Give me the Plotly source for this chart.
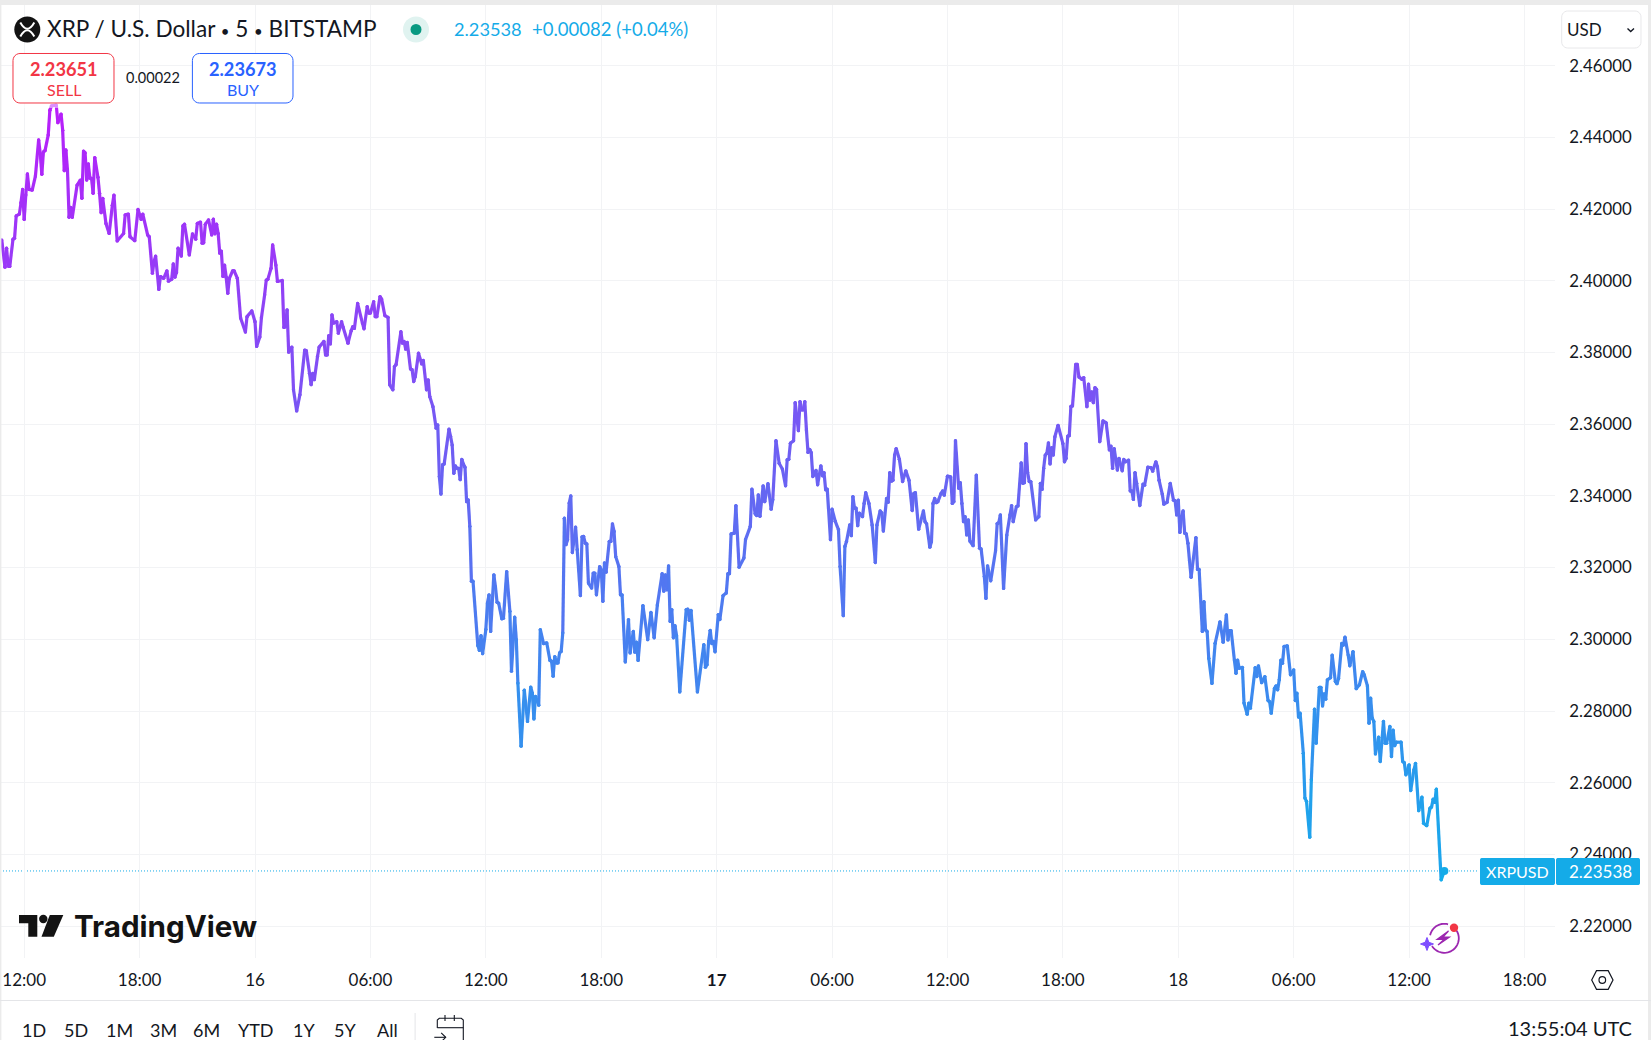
import math
import plotly.graph_objects as go

W, H = 1651, 1040
FONT = "Lato"
INK = "#131722"
GRID = "#f2f3f5"
CYAN = "#14abe8"
RED = "#f23645"
BLUE = "#2962ff"
TOP_RGB = (186, 29, 250)
BOT_RGB = (18, 174, 235)

# 5-minute bar numbers, counted from 12:00 on the 15th
bars = [
 -14,-12,-11,-10,-9,-7,-6,-5,-3,-2,-1,0,1,2,3,5,7,9,10,11,12,13,15,16,17,20,21,23,24,25,26,27,28,29,30,33,35,36,37,38,39,40,41,42,43,44,46,47,48,49,51,53,55,56,58,62,63,65,66,69,71,73,74,77,78,80,81,82,84,85,87,89,90,92,93,94,95,96,98,99,100,103,105,107,108,110,111,112,113,115,117,118,119,120,121,122,123,124,125,126,127,128,130,131,133,135,138,139,142,144,145,147,148,150,151,152,154,155,157,158,161,162,163,164,165,167,168,170,172,175,176,178,179,180,181,183,184,187,188,189,190,191,192,193,195,196,198,199,202,204,205,206,208,211,212,214,215,216,218,219,220,222,223,225,227,228,230,231,232,235,236,237,238,239,241,242,243,244,246,248,249,251,252,253,255,
 257,258,259,260,261,262,265,266,267,268,269,270,271,272,273,274,275,276,277,278,279,280,283,284,285,286,288,289,290,291,293,294,295,296,298,299,301,303,304,306,307,308,310,312,314,316,317,318,319,321,322,324,326,328,329,330,331,332,333,334,335,336,337,338,339,340,341,342,344,345,347,348,349,350,351,352,354,355,356,357,359,360,361,362,363,365,366,367,368,369,371,372,373,375,377,378,380,381,382,383,386,389,391,393,395,398,399,400,401,402,403,404,405,406,407,409,413,414,415,416,420,424,425,426,427,428,429,430,431,433,434,436,438,439,440,441,443,444,446,449,450,453,454,456,457,458,459,461,462,464,466,467,469,471,473,475,476,477,478,480,481,483,484,485,486,487,488,489,490,491,492,494,495,497,498,499,500,501,503,504,506,508,509,511,512,513,515,516,517,518,519,520,521,
 523,524,525,527,529,531,532,534,535,536,538,539,540,541,542,543,544,546,548,550,552,554,555,556,558,561,562,563,565,566,567,568,569,570,572,573,574,576,578,579,580,581,583,584,585,586,587,588,589,590,592,594,596,597,599,600,601,603,606,607,608,609,611,613,615,616,617,619,620,622,623,624,625,626,627,628,631,633,634,635,636,637,638,639,640,641,642,643,645,648,649,650,651,652,653,654,656,657,658,660,661,663,664,665,666,667,668,669,671,673,675,677,678,679,680,682,683,685,686,687,689,690,691,692,693,694,696,698,699,701,703,704,706,707,708,710,711,713,715,717,718,719,720,721,722,723,724,725,726,727,728,731,732,733,735,736,737,738,739,
 741,743,746,748,750,751,752,753,755,756,757,758,760,761,763,764,765,768,769,770,772,774,776,777,778,780,781,782,783,784,785,786,788,790,792,793,794,795,796,798,799,800,802,803,805,806,808,809,810,811,812,813,815,816,818,819,820,822,823,824,826,827,829,831,833,835,836,838,839,840,841,842,843,845,846,848,849,850,852,853,854,855,856,859,860,861,862,864,865,867,868,870,872,873,875,877,878,879,880,881,884,886,
]
# XRP/USD price at those bars
prices = [
 2.4114,2.4038,2.4091,2.4041,2.4040,2.4116,2.4119,2.4181,2.4186,2.4218,2.4255,2.4171,2.4239,2.4298,2.4255,2.4253,2.4292,2.4393,2.4355,2.4297,2.4360,2.4363,2.4407,2.4476,2.4488,2.4490,2.4441,2.4465,2.4420,2.4307,2.4365,2.4309,2.4177,2.4205,2.4177,2.4267,2.4281,2.4230,2.4362,2.4357,2.4281,2.4326,2.4286,2.4286,2.4244,2.4344,2.4289,2.4244,2.4190,2.4230,2.4160,2.4132,2.4211,2.4239,2.4111,2.4132,2.4184,2.4186,2.4123,2.4112,2.4199,2.4171,2.4186,2.4128,2.4123,2.4021,2.4054,2.4069,2.3976,2.4012,2.4007,2.4028,2.3999,2.4004,2.4047,2.4010,2.4023,2.4091,2.4069,2.4153,2.4158,2.4072,2.4131,2.4116,2.4160,2.4164,2.4105,2.4106,2.4158,2.4170,2.4128,2.4172,2.4131,2.4158,2.4132,2.4077,2.4083,2.4012,2.4044,2.4010,2.3965,2.4007,2.4028,2.4028,2.4007,2.3896,2.3857,2.3900,2.3916,2.3886,2.3817,2.3843,2.3897,2.3961,2.4002,2.4004,2.4035,2.4100,2.4044,2.3998,2.4001,2.3870,2.3872,2.3919,2.3801,2.3815,2.3696,2.3637,2.3682,2.3807,2.3805,2.3742,2.3710,2.3742,2.3724,2.3789,2.3815,2.3831,2.3793,2.3793,2.3847,2.3824,2.3905,2.3882,2.3886,2.3854,2.3886,2.3870,2.3826,2.3861,2.3872,2.3867,2.3937,2.3882,2.3866,2.3928,2.3910,2.3910,2.3942,2.3900,2.3900,2.3956,2.3949,2.3903,2.3898,2.3710,2.3696,2.3761,2.3766,2.3858,2.3826,2.3831,2.3809,2.3828,2.3754,2.3752,2.3719,2.3733,2.3798,2.3768,2.3778,2.3696,2.3724,2.3677,2.3649,
 2.3589,2.3598,2.3454,2.3405,2.3487,2.3489,2.3586,2.3566,2.3542,2.3463,2.3484,2.3477,2.3477,2.3445,2.3502,2.3489,2.3480,2.3384,2.3389,2.3315,2.3162,2.3162,2.2983,2.2969,2.3010,2.2960,2.3027,2.3101,2.3124,2.3022,2.3180,2.3146,2.3103,2.3101,2.3057,2.3059,2.3189,2.3078,2.2911,2.3062,2.2999,2.2878,2.2702,2.2858,2.2771,2.2867,2.2850,2.2778,2.2841,2.2816,2.3027,2.2988,2.2990,2.2941,2.2939,2.2897,2.2952,2.2934,2.2934,2.2962,2.2966,2.3018,2.3338,2.3264,2.3278,2.3380,2.3400,2.3242,2.3313,2.3250,2.3122,2.3286,2.3287,2.3268,2.3266,2.3157,2.3143,2.3185,2.3185,2.3124,2.3203,2.3194,2.3106,2.3213,2.3187,2.3273,2.3273,2.3322,2.3301,2.3231,2.3203,2.3124,2.3124,2.2937,2.3055,2.2962,2.3022,2.2964,2.2992,2.2941,2.3094,2.2999,2.3075,2.3004,2.3096,2.3183,2.3134,2.3180,2.3138,2.3205,2.3050,2.3083,2.3004,2.3038,2.3010,2.2853,2.3083,2.3084,2.3053,2.3081,2.2853,2.2985,2.2922,2.2929,2.2994,2.3025,2.2988,2.2994,2.2965,2.3069,2.3055,2.3122,2.3129,2.3183,2.3183,2.3294,2.3296,2.3373,2.3201,2.3227,2.3278,2.3315,2.3419,2.3350,2.3345,2.3403,2.3343,2.3428,2.3384,2.3434,2.3363,2.3389,2.3554,2.3491,2.3475,2.3428,2.3501,2.3502,2.3547,2.3554,2.3660,2.3582,2.3663,2.3640,2.3640,2.3663,2.3584,2.3521,2.3530,2.3521,2.3454,2.3471,2.3431,2.3484,2.3456,2.3465,2.3417,2.3419,2.3278,2.3363,2.3329,2.3306,2.3203,2.3066,2.3259,2.3273,2.3319,2.3289,2.3398,2.3366,2.3366,2.3317,2.3352,
 2.3342,2.3379,2.3409,2.3379,2.3319,2.3214,2.3319,2.3358,2.3353,2.3302,2.3393,2.3382,2.3465,2.3441,2.3444,2.3514,2.3532,2.3502,2.3440,2.3470,2.3444,2.3359,2.3407,2.3409,2.3307,2.3358,2.3328,2.3322,2.3257,2.3272,2.3379,2.3393,2.3381,2.3384,2.3407,2.3414,2.3402,2.3455,2.3453,2.3379,2.3384,2.3554,2.3421,2.3437,2.3379,2.3328,2.3342,2.3291,2.3333,2.3274,2.3261,2.3458,2.3254,2.3252,2.3175,2.3114,2.3205,2.3163,2.3247,2.3323,2.3325,2.3347,2.3142,2.3291,2.3347,2.3373,2.3328,2.3370,2.3372,2.3492,2.3435,2.3437,2.3546,2.3465,2.3440,2.3440,2.3333,2.3342,2.3435,2.3418,2.3477,2.3514,2.3519,2.3548,2.3489,2.3535,2.3514,2.3565,2.3597,2.3546,2.3495,2.3505,2.3567,2.3568,2.3650,2.3651,2.3767,2.3767,2.3732,2.3725,2.3730,2.3649,2.3712,2.3667,2.3690,2.3660,2.3702,2.3697,2.3551,2.3609,2.3604,2.3528,2.3539,2.3477,2.3532,2.3472,2.3505,2.3470,2.3502,2.3495,2.3500,2.3414,2.3414,2.3390,2.3465,2.3435,2.3373,2.3433,2.3430,2.3480,2.3479,2.3469,2.3495,2.3481,2.3444,2.3405,2.3377,2.3382,2.3435,2.3388,2.3387,2.3347,2.3388,2.3298,2.3342,2.3358,2.3296,2.3294,2.3268,2.3219,2.3173,2.3284,2.3195,2.3195,2.3022,2.3105,2.3026,2.3022,2.2947,
 2.2877,2.2989,2.3049,2.2992,2.3068,2.2998,2.3024,2.3024,2.2942,2.2905,2.2942,2.2919,2.2922,2.2822,2.2791,2.2822,2.2808,2.2921,2.2896,2.2926,2.2879,2.2896,2.2829,2.2826,2.2794,2.2863,2.2870,2.2859,2.2887,2.2942,2.2933,2.2980,2.2982,2.2901,2.2915,2.2829,2.2850,2.2783,2.2794,2.2682,2.2557,2.2548,2.2448,2.2608,2.2805,2.2710,2.2866,2.2866,2.2814,2.2848,2.2833,2.2887,2.2893,2.2956,2.2882,2.2876,2.2891,2.2989,2.2984,2.3006,2.2956,2.2926,2.2966,2.2862,2.2873,2.2910,2.2901,2.2870,2.2766,2.2836,2.2780,2.2771,2.2680,2.2727,2.2659,2.2771,2.2710,2.2710,2.2757,2.2673,2.2747,2.2703,2.2713,2.2713,2.2659,2.2656,2.2622,2.2650,2.2578,2.2636,2.2654,2.2522,2.2560,2.2487,2.2480,2.2529,2.2532,2.2554,2.2545,2.2582,2.2329,2.23538,
]
price_ticks = [2.22, 2.24, 2.26, 2.28, 2.30, 2.32, 2.34, 2.36, 2.38, 2.40, 2.42, 2.44, 2.46]
time_tick_bars = [0, 72, 144, 216, 288, 360, 432, 504, 576, 648, 720, 792, 864, 936]
time_tick_labels = ["12:00", "18:00", "16", "06:00", "12:00", "18:00", "<b>17</b>", "06:00", "12:00", "18:00", "18", "06:00", "12:00", "18:00"]
ranges = ["1D", "5D", "1M", "3M", "6M", "YTD", "1Y", "5Y", "All"]
range_centres = [34, 76, 119.5, 163, 207, 256, 304, 345, 387]
last_price = 2.23538

PLOT_R, PLOT_T, PLOT_B = 1555, 5, 958
def px_x(x): return x / W
def px_y(y): return 1 - y / H

shapes, annotations = [], []

def rgb_at(p):
    pmax, pmin = max(prices), min(prices)
    t = (pmax - p) / (pmax - pmin)
    return "rgb(%d,%d,%d)" % tuple(round(a + (b - a) * t) for a, b in zip(TOP_RGB, BOT_RGB))

def path(points, closed=False):
    s = "M" + " L".join(f"{px_x(x):.6f},{px_y(y):.6f}" for x, y in points)
    return s + (" Z" if closed else "")

def add_path(points, color=None, width=0, fill=None, closed=False):
    shapes.append(dict(type="path", xref="paper", yref="paper", layer="above",
                       path=path(points, closed),
                       line=dict(color=color or "rgba(0,0,0,0)", width=width),
                       fillcolor=fill or "rgba(0,0,0,0)"))

def add_rect(x0, y0, x1, y1, fill, color=None, width=0, layer="above"):
    shapes.append(dict(type="rect", xref="paper", yref="paper", layer=layer,
                       x0=px_x(x0), x1=px_x(x1), y0=px_y(y0), y1=px_y(y1),
                       fillcolor=fill, line=dict(color=color or "rgba(0,0,0,0)", width=width)))

def add_circle(cx, cy, r, fill, color=None, width=0):
    shapes.append(dict(type="circle", xref="paper", yref="paper", layer="above",
                       x0=px_x(cx - r), x1=px_x(cx + r), y0=px_y(cy - r), y1=px_y(cy + r),
                       fillcolor=fill, line=dict(color=color or "rgba(0,0,0,0)", width=width)))

def arc_pts(cx, cy, r, a0, a1, n=30):
    return [(cx + r * math.cos(math.radians(a0 + (a1 - a0) * i / n)),
             cy - r * math.sin(math.radians(a0 + (a1 - a0) * i / n))) for i in range(n + 1)]

def rounded(x0, y0, x1, y1, r):
    pts = []
    pts += arc_pts(x1 - r, y0 + r, r, 90, 0, 6)
    pts += arc_pts(x1 - r, y1 - r, r, 0, -90, 6)
    pts += arc_pts(x0 + r, y1 - r, r, -90, -180, 6)
    pts += arc_pts(x0 + r, y0 + r, r, 180, 90, 6)
    return pts

def text(x, y, s, size=16, color=INK, anchor="center", weight=400, family=FONT):
    annotations.append(dict(xref="paper", yref="paper", x=px_x(x), y=px_y(y), text=s,
                            showarrow=False, xanchor=anchor, yanchor="middle", borderpad=0, borderwidth=0,
                            font=dict(family=family, size=size, color=color, weight=weight)))

fig = go.Figure()

# gradient line: segments grouped into colour bands by price
N = 70
pmax, pmin = max(prices), min(prices)
band_x = [[] for _ in range(N)]
band_y = [[] for _ in range(N)]
for i in range(len(bars) - 1):
    mid = (prices[i] + prices[i + 1]) / 2
    k = min(N - 1, int((pmax - mid) / (pmax - pmin) * N))
    band_x[k] += [bars[i], bars[i + 1], None]
    band_y[k] += [prices[i], prices[i + 1], None]
for k in range(N):
    if band_x[k]:
        c = rgb_at(pmax - (k + .5) / N * (pmax - pmin))
        fig.add_trace(go.Scatter(x=band_x[k], y=band_y[k], mode="lines+markers",
                                 line=dict(color=c, width=3.2), marker=dict(color=c, size=3.2),
                                 hoverinfo="skip", showlegend=False))
fig.add_trace(go.Scatter(x=[bars[-1]], y=[last_price], mode="markers",
                         marker=dict(color=CYAN, size=8), hoverinfo="skip", showlegend=False))

# last-price dotted line
shapes.append(dict(type="line", xref="paper", yref="y", x0=0, x1=px_x(1479), y0=last_price, y1=last_price,
                   layer="below", line=dict(color=CYAN, width=1, dash="1px,2px")))

# window frame
add_rect(0, 0, W, 5, "#ebebeb")
add_rect(0, 0, 1.4, H, "#ebebeb")
add_rect(W - 3, 0, W, H, "#ebebeb")

# header
add_circle(27.3, 29.5, 13, "#131313")
for sign in (-1, 1):
    shapes.append(dict(type="path", xref="paper", yref="paper", layer="above",
                       path=f"M{px_x(20.3):.6f},{px_y(29.5 - sign*7):.6f} Q{px_x(27.3):.6f},{px_y(29.5 + sign*5.5):.6f} {px_x(34.3):.6f},{px_y(29.5 - sign*7):.6f}",
                       line=dict(color="white", width=2), fillcolor="rgba(0,0,0,0)"))
DOT = '<span style="font-size:15px">•</span>'
text(46.5, 28.7, f"XRP / U.S. Dollar {DOT} 5 {DOT} BITSTAMP", size=22.6, anchor="left")
add_circle(416, 29.5, 13, "#e0f3f0")
add_circle(416, 29.5, 5.5, "#089981")
text(454, 29, "2.23538", size=18.2, color=CYAN, anchor="left")
text(532, 29, "+0.00082 (+0.04%)", size=18.5, color=CYAN, anchor="left")

# sell / buy buttons
add_rect(12.9, 103, 114, 108, "rgba(255,255,255,.5)")
add_path(rounded(13, 53.5, 114, 103, 7), color=RED, width=1, fill="white", closed=True)
text(63.5, 69.5, "2.23651", size=18.2, color=RED, weight=700)
text(63.5, 89.5, "SELL", size=16, color=RED)
text(153, 78, "0.00022", size=14.5)
add_path(rounded(192.4, 53.5, 293, 103, 7), color=BLUE, width=1, fill="white", closed=True)
text(243, 69.5, "2.23673", size=18.2, color=BLUE, weight=700)
text(243, 89.5, "BUY", size=16, color=BLUE)

# currency menu
add_path(rounded(1561.7, 11, 1641, 48, 6), color="#e8e8ea", width=1, fill="white", closed=True)
text(1567, 29.5, "USD", size=17, anchor="left")
add_path([(1627.5, 28.5), (1630.7, 31.5), (1634, 28.5)], color=INK, width=1.4)

# logo
add_path([(19, 915), (37.3, 915), (37.3, 936.7), (28.3, 936.7), (28.3, 923.3), (19, 923.3)], fill="#131313", closed=True)
add_circle(43.3, 919, 4.2, "#131313")
add_path([(49.8, 915), (63.3, 915), (53.8, 936.7), (41.5, 936.7)], fill="#131313", closed=True)
text(74, 926, "TradingView", size=29.6, color="#131313", anchor="left", weight=700, family="Inter")

# last-price label
add_path(rounded(1480, 858, 1555, 885, 2), fill=CYAN, closed=True)
add_path(rounded(1556, 858, 1640, 885, 2), fill=CYAN, closed=True)
text(1517.5, 871.5, "XRPUSD", size=16, color="white")
text(1600.5, 871.5, "2.23538", size=17, color="white")

# assistant icon
ICON = "#9c27b0"
add_path(arc_pts(1444.3, 938.3, 14.5, 75, 168), color=ICON, width=1.8)
add_path(arc_pts(1444.3, 938.3, 14.5, 212, 392), color=ICON, width=1.8)
add_path([(1448.5, 931), (1437, 939.5), (1444, 939.5), (1438, 945), (1449.5, 937), (1443, 937)], color=ICON, width=1.2, fill=ICON, closed=True)
add_path([(1427, 937.5), (1428.8, 942.2), (1433.5, 944), (1428.8, 945.8), (1427, 950.5), (1425.2, 945.8), (1420.5, 944), (1425.2, 942.2)], fill="#7e4dff", color="#7e4dff", width=1, closed=True)
add_circle(1454, 927.7, 4.2, RED)

# settings icon
add_path([(1591.7, 980), (1596.5, 970.7), (1608.2, 970.7), (1613, 980), (1608.2, 989.3), (1596.5, 989.3)], color=INK, width=1.2, closed=True)
add_circle(1602.3, 980, 3.3, "white", color=INK, width=1.2)

# bottom toolbar
add_rect(0, 1000, W, 1001, "#e4e5e8")
for c, r in zip(range_centres, ranges):
    text(c, 1029.5, r, size=18)
add_rect(414.6, 1013, 415.6, H, "#e4e5e8")
add_path([(437.3, 1028), (437.3, 1020), (439.3, 1018.3), (461.3, 1018.3), (463.3, 1020), (463.3, H)], color=INK, width=1.1)
add_path([(437.3, 1027.7), (463.3, 1027.7)], color=INK, width=1.1)
add_path([(445, 1015), (445, 1021)], color=INK, width=1.1)
add_path([(454.3, 1015), (454.3, 1021)], color=INK, width=1.1)
add_path([(434.3, 1037.3), (445.7, 1037.3)], color=INK, width=1.1)
add_path([(441.2, 1032.8), (445.7, 1037.3), (441.2, 1041.8)], color=INK, width=1.1)
text(1632, 1027.5, "13:55:04 UTC", size=20, anchor="right")

x_scale = 1.6029
x_zero = 24.2
p_per_px = 1 / 3585
fig.update_layout(
    width=W, height=H,
    margin=dict(l=0, r=0, t=0, b=0, pad=0, autoexpand=False),
    paper_bgcolor="white", plot_bgcolor="white",
    hovermode=False, showlegend=False,
    font=dict(family=FONT, size=17, color=INK),
    xaxis=dict(domain=[0, PLOT_R / W], range=[(0 - x_zero) / x_scale, (PLOT_R - x_zero) / x_scale],
               tickmode="array", tickvals=time_tick_bars, ticktext=time_tick_labels,
               showgrid=True, gridcolor=GRID, gridwidth=1, zeroline=False, showline=False,
               ticks="outside", ticklen=7, tickcolor="rgba(0,0,0,0)",
               tickfont=dict(family=FONT, size=17, color=INK), fixedrange=True),
    yaxis=dict(domain=[1 - PLOT_B / H, 1 - PLOT_T / H], side="right",
               range=[2.46 - (PLOT_B - 65.7) * p_per_px, 2.46 + (65.7 - PLOT_T) * p_per_px],
               tickmode="array", tickvals=price_ticks, tickformat=".5f",
               showgrid=True, gridcolor=GRID, gridwidth=1, zeroline=False, showline=False,
               ticks="outside", ticklen=10, tickcolor="rgba(0,0,0,0)",
               tickfont=dict(family=FONT, size=16.8, color=INK), fixedrange=True),
    shapes=shapes, annotations=annotations,
)
fig.write_html("out.html", config=dict(displayModeBar=False),
               post_script="document.body.style.margin='0';document.body.style.overflow='hidden';")
